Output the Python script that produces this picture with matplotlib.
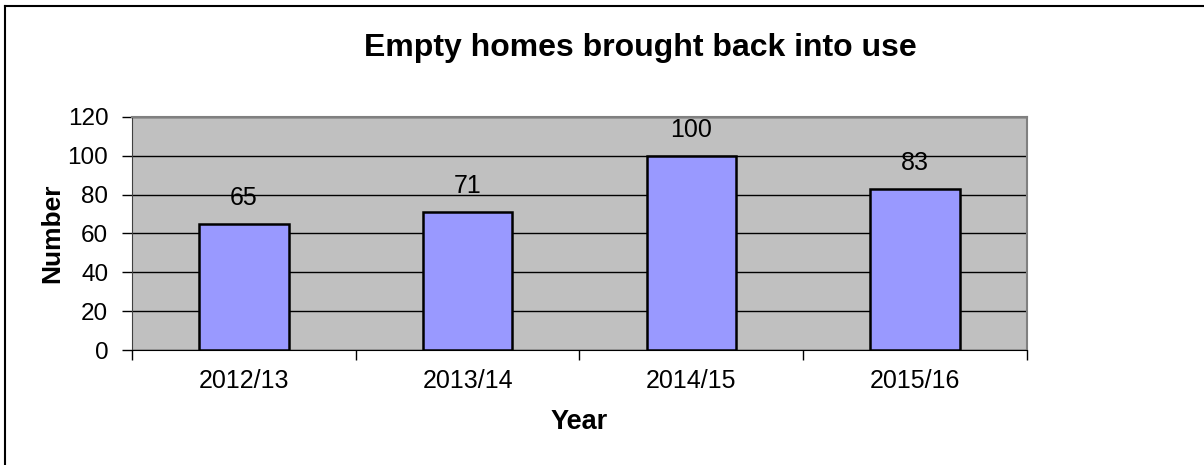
import numpy as np
import matplotlib
matplotlib.use("Agg")
import matplotlib.pyplot as plt
from matplotlib.lines import Line2D

years = ["2012/13", "2013/14", "2014/15", "2015/16"]
homes = [65, 71, 100, 83]
y_ticks = [0, 20, 40, 60, 80, 100, 120]

plt.rcParams["font.family"] = ["Liberation Sans", "DejaVu Sans"]

fig = plt.figure(figsize=(12.04, 4.65), dpi=100)
ax = fig.add_axes([0.1096, 0.2473, 0.7434, 0.5011])

x = np.arange(len(years))
ax.set_facecolor("#C0C0C0")
ax.yaxis.grid(True, color="black", linewidth=1)
ax.set_axisbelow(True)
bars = ax.bar(x, homes, width=0.4, color="#9999FF", edgecolor="black",
              linewidth=1.8, zorder=3)

for xi, v in zip(x, homes):
    ax.annotate(str(v), (xi, v), xytext=(0, 10), textcoords="offset points",
                ha="center", va="bottom", fontsize=18)

ax.set_xlim(-0.5, len(years) - 0.5)
ax.set_ylim(0, 120)
ax.set_yticks(y_ticks)
ax.tick_params(axis="y", labelsize=17.5, length=7, width=1, pad=10)

# category ticks sit between the bars, labels in the middle
ax.set_xticks(np.arange(-0.5, len(years), 1.0))
ax.set_xticklabels([])
ax.set_xticks(x, minor=True)
ax.set_xticklabels(years, minor=True)
ax.tick_params(axis="x", which="major", length=7, width=1)
ax.tick_params(axis="x", which="minor", length=0, labelsize=18, pad=14)

for side in ["top", "right"]:
    ax.spines[side].set_color("#808080")
    ax.spines[side].set_linewidth(1.5)
ax.spines["left"].set_color("#404040")
ax.spines["bottom"].set_color("black")

ax.set_xlabel("Year", fontsize=19.5, fontweight="bold")
ax.set_ylabel("Number", fontsize=19, fontweight="bold")
ax.xaxis.set_label_coords(0.5, -0.309)
ax.yaxis.set_label_coords(-0.0894, 0.5)
ax.xaxis.label.set_va("center")
ax.yaxis.label.set_va("center")

fig.text(0.532, 1 - 56 / 465, "Empty homes brought back into use", ha="center",
         va="baseline", fontsize=23, fontweight="bold")

# outer chart frame (top and left edges visible)
fig.add_artist(Line2D([5 / 1204, 1203 / 1204], [1 - 6 / 465, 1 - 6 / 465],
                      color="black", linewidth=1.5))
fig.add_artist(Line2D([5 / 1204, 5 / 1204], [0, 1 - 6 / 465],
                      color="black", linewidth=1.5))

fig.savefig("out.png", dpi=100)
